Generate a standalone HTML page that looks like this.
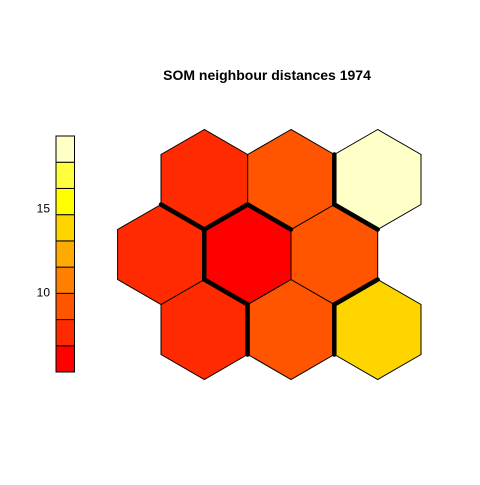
<!DOCTYPE html>
<html><head><meta charset="utf-8"><style>
body{margin:0;background:#fff}
svg text{font-family:"Liberation Sans",Arial,sans-serif}
</style></head><body>
<svg id="c" width="480" height="480">
<text x="267" y="80" text-anchor="middle" font-size="14" font-weight="bold">SOM neighbour distances 1974</text>
</svg>
<script>
// unit distances: bottom row (left->right), middle row, top row
const unitValues = [7.0, 8.5, 13.5, 7.0, 5.5, 8.5, 7.0, 8.5, 19.0];
const legendColors = ['#FF0000','#FF2A00','#FF5500','#FF8000','#FFAA00','#FFD500','#FFFF00','#FFFF40','#FFFFC8'];
const legendTicks = [10, 15];
const legendMin = 5.24, legendMax = 19.29;
const thickPairs = [[6,3],[6,4],[3,4],[4,7],[4,0],[0,1],[7,8],[8,5],[5,2],[1,2]];
const svg = document.getElementById('c');
const NS = 'http://www.w3.org/2000/svg';
const w = 86.7, r = 50;
function cx(i){const row=Math.floor(i/3),col=i%3;return 204.3+col*w-(row===1?w/2:0);}
function cy(i){const row=Math.floor(i/3);return 329.5-row*75;}
function colorFor(v){let k=Math.floor((v-legendMin)/(legendMax-legendMin)*legendColors.length);k=Math.max(0,Math.min(legendColors.length-1,k));return legendColors[k];}
function verts(i){const a=[];for(let k=0;k<6;k++){const ang=Math.PI/180*(90+60*k);a.push([cx(i)+r*Math.cos(ang),cy(i)-r*Math.sin(ang)]);}return a;}
unitValues.forEach((v,i)=>{
  const p=document.createElementNS(NS,'polygon');
  p.setAttribute('points',verts(i).map(q=>q[0].toFixed(1)+','+q[1].toFixed(1)).join(' '));
  p.setAttribute('fill',colorFor(v));p.setAttribute('stroke','#000');p.setAttribute('stroke-width','1');
  
  
  svg.appendChild(p);
});
thickPairs.forEach(([a,b])=>{
  const va=verts(a),vb=verts(b);
  const sh=va.filter(p=>vb.some(q=>Math.hypot(p[0]-q[0],p[1]-q[1])<1));
  if(sh.length<2)return;
  const l=document.createElementNS(NS,'line');
  l.setAttribute('x1',sh[0][0]);l.setAttribute('y1',sh[0][1]);l.setAttribute('x2',sh[1][0]);l.setAttribute('y2',sh[1][1]);
  l.setAttribute('stroke','#000');l.setAttribute('stroke-width','4.5');l.setAttribute('stroke-linecap','round');
  
  
  svg.appendChild(l);
});
// legend
const ly0=372, ly1=136, lx=56, lw=18.5;
const ch=(ly0-ly1)/legendColors.length;
legendColors.forEach((c,k)=>{
  const rc=document.createElementNS(NS,'rect');
  rc.setAttribute('x',lx);rc.setAttribute('y',ly0-(k+1)*ch);rc.setAttribute('width',lw);rc.setAttribute('height',ch);
  rc.setAttribute('fill',c);rc.setAttribute('stroke','#000');rc.setAttribute('stroke-width','1');
  
  
  svg.appendChild(rc);
});
function ly(v){return ly0-(v-legendMin)/(legendMax-legendMin)*(ly0-ly1);}
legendTicks.forEach(t=>{
  const tx=document.createElementNS(NS,'text');
  tx.setAttribute('x',50);tx.setAttribute('y',ly(t)+4.5);tx.setAttribute('text-anchor','end');tx.setAttribute('font-size','12');
  tx.textContent=t;
  
  
  svg.appendChild(tx);
});
</script>
</body></html>
